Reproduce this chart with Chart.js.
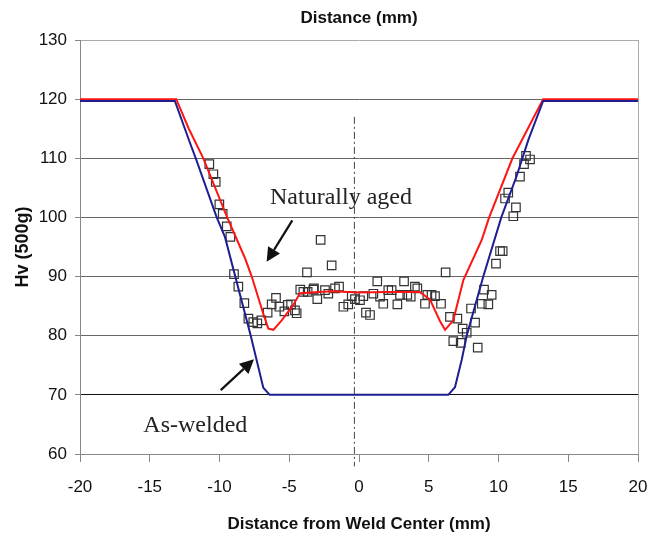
<!DOCTYPE html>
<html>
<head>
<meta charset="utf-8">
<script src="https://cdn.jsdelivr.net/npm/chart.js@4.4.0/dist/chart.umd.min.js"></script>
<style>
  html, body { margin: 0; padding: 0; background: #fff; }
</style>
</head>
<body>
<canvas id="hardnessChart" width="659" height="536"></canvas>
<script>
// measured hardness points (open squares)
const measuredX = [-10.73,-10.44,-10.27,-10.01,-9.77,-9.48,-9.22,-8.96,-8.65,-8.22,-7.93,-7.58,-7.29,-7.0,-6.55,-6.26,-5.95,-5.71,-5.35,-5.11,-4.87,-4.59,-4.47,-4.21,-3.99,-3.73,-3.68,-3.27,-3.23,-2.99,-2.75,-2.44,-2.20,-1.96,-1.72,-1.43,-1.12,-0.77,-0.52,-0.29,0.07,0.31,0.50,0.79,1.03,1.31,1.51,1.74,2.10,2.34,2.75,2.94,3.23,3.46,3.71,4.01,4.18,4.73,4.90,5.20,5.45,5.88,6.21,6.52,6.76,7.05,7.29,7.43,7.72,8.03,8.32,8.51,8.80,8.96,9.27,9.51,9.82,10.11,10.30,10.47,10.70,11.06,11.25,11.54,11.83,11.97,12.26];
const measuredHv = [109.0,107.3,106.0,102.2,100.6,98.5,96.7,90.4,88.3,85.5,82.9,82.3,82.1,82.6,83.9,85.3,86.4,84.9,84.1,85.2,85.3,84.3,83.8,87.8,87.4,90.7,87.4,87.8,88.0,86.2,96.2,87.7,87.1,91.9,88.0,88.3,84.9,85.3,86.7,86.2,86.0,86.7,83.9,83.5,87.1,89.2,86.6,85.4,87.7,87.7,85.3,86.9,89.2,86.9,86.6,88.3,88.0,85.4,86.9,86.9,86.7,85.4,90.7,83.2,79.1,82.9,78.8,81.2,80.5,84.6,82.2,78.0,85.4,87.8,85.3,86.9,92.2,94.3,94.3,103.2,104.2,100.2,101.7,106.9,109.0,110.4,109.8];

// naturally aged curve (red)
const agedX = [-20,-13.1,-12.2,-11.16,-9.45,-8.17,-7.69,-6.9,-6.5,-6.14,-5.54,-4.71,-4.23,-2,0,2,4.37,5.09,5.8,6.17,6.76,7.48,8.8,9.33,11.0,12.1,13.2,20];
const agedHv = [120,120,115,110,100,93.1,90,84,81.2,81.0,82.6,85.2,87.2,87.5,87.3,87.4,87.4,86.1,82.5,81.0,82.6,89.4,96.2,100,110,115,120,120];

// as-welded curve (blue)
const weldedX = [-20,-13.2,-12.1,-11.7,-10.2,-9.61,-7.76,-6.86,-6.4,6.4,6.88,7.36,7.72,8.91,10.2,11.3,12.14,13.2,20];
const weldedHv = [119.7,119.7,112.5,110,100,96.7,80,71.2,70,70,71.3,75.9,80,90,100,107,113.1,119.7,119.7];

// weld centre dash-dot line
const centerX = [-0.33, -0.33];
const centerHv = [117, 57.9];

// callouts (data coordinates)
const noteText = ["Naturally aged", "As-welded"];
const noteX = [-6.38, -15.46];
const noteHv = [102.3, 63.7];
const arrowFromX = [-4.78, -9.91];
const arrowFromHv = [99.5, 70.8];
const arrowToX = [-6.62, -7.53];
const arrowToHv = [92.5, 76.0];

const toPoints = (xs, ys) => xs.map((v, i) => ({ x: v, y: ys[i] }));
const sans = '"Liberation Sans", Arial, sans-serif';

const notesPlugin = {
  id: "weldNotes",
  afterDatasetsDraw(chart) {
    const { ctx, chartArea, scales: { x, y } } = chart;
    ctx.save();
    // right edge of the frame
    ctx.strokeStyle = "#aaa";
    ctx.lineWidth = 1;
    ctx.beginPath();
    ctx.moveTo(Math.round(chartArea.right) + 0.5, chartArea.top);
    ctx.lineTo(Math.round(chartArea.right) + 0.5, chartArea.bottom);
    ctx.stroke();

    ctx.fillStyle = "#222";
    ctx.font = '24px "Liberation Serif", "Times New Roman", serif';
    ctx.textBaseline = "alphabetic";
    noteText.forEach((t, i) => {
      ctx.fillText(t, x.getPixelForValue(noteX[i]), y.getPixelForValue(noteHv[i]));
    });

    // arrows
    ctx.strokeStyle = "#111";
    ctx.fillStyle = "#111";
    ctx.lineWidth = 2.2;
    arrowFromX.forEach((_, i) => {
      const x0 = x.getPixelForValue(arrowFromX[i]), y0 = y.getPixelForValue(arrowFromHv[i]);
      const x1 = x.getPixelForValue(arrowToX[i]), y1 = y.getPixelForValue(arrowToHv[i]);
      const ang = Math.atan2(y1 - y0, x1 - x0);
      const head = 14, half = 7;
      const bx = x1 - head * Math.cos(ang), by = y1 - head * Math.sin(ang);
      ctx.beginPath();
      ctx.moveTo(x0, y0);
      ctx.lineTo(bx, by);
      ctx.stroke();
      ctx.beginPath();
      ctx.moveTo(x1, y1);
      ctx.lineTo(bx + half * Math.sin(ang), by - half * Math.cos(ang));
      ctx.lineTo(bx - half * Math.sin(ang), by + half * Math.cos(ang));
      ctx.closePath();
      ctx.fill();
    });
    ctx.restore();
  }
};

const ctx = document.getElementById("hardnessChart").getContext("2d");
new Chart(ctx, {
  type: "scatter",
  data: {
    datasets: [
      {
        label: "Measured",
        data: toPoints(measuredX, measuredHv),
        pointStyle: "rect",
        pointRadius: 6,
        borderColor: "#333",
        backgroundColor: "rgba(255,255,255,0)",
        borderWidth: 1.2,
        order: 3
      },
      {
        label: "Naturally aged",
        type: "line",
        data: toPoints(agedX, agedHv),
        borderColor: "#ff1414",
        borderWidth: 2,
        pointRadius: 0,
        tension: 0,
        fill: false,
        order: 2
      },
      {
        label: "As-welded",
        type: "line",
        data: toPoints(weldedX, weldedHv),
        borderColor: "#1e1e92",
        borderWidth: 2,
        pointRadius: 0,
        tension: 0,
        fill: false,
        order: 1
      },
      {
        label: "Weld center",
        type: "line",
        data: toPoints(centerX, centerHv),
        borderColor: "#444",
        borderWidth: 1,
        borderDash: [7, 3, 2, 3],
        pointRadius: 0,
        fill: false,
        clip: false,
        order: 4
      }
    ]
  },
  options: {
    responsive: false,
    animation: false,
    devicePixelRatio: 1,
    layout: { padding: { left: 0, right: 21, top: 0, bottom: 0 } },
    plugins: {
      legend: { display: false },
      tooltip: { enabled: false },
      title: {
        display: true,
        text: "Distance (mm)",
        fullSize: false,
        color: "#111",
        font: { family: sans, size: 17, weight: "bold" },
        padding: { top: 8, bottom: 11.6 }
      }
    },
    scales: {
      x: {
        type: "linear",
        min: -20,
        max: 20,
        ticks: { stepSize: 5, color: "#111", padding: 15, font: { family: sans, size: 17 } },
        grid: { drawOnChartArea: false, drawTicks: true, tickLength: 8, color: "#888" },
        border: { color: "#888" },
        title: {
          display: true,
          text: "Distance from Weld Center (mm)",
          color: "#111",
          font: { family: sans, size: 17, weight: "bold" },
          padding: { top: 0, bottom: 1 }
        },
        afterFit(scale) {
          scale.height = 82;
          scale.paddingLeft = 0;
          scale.paddingRight = 0;
        }
      },
      y: {
        min: 60,
        max: 130,
        ticks: { stepSize: 10, color: "#111", padding: 8, font: { family: sans, size: 17 } },
        grid: {
          color: (c) => c.tick && c.tick.value === 70 ? "#111" : (c.tick && c.tick.value === 130 ? "#aaa" : "#666"),
          tickColor: "#888",
          tickLength: 5
        },
        border: { color: "#888" },
        title: {
          display: true,
          text: "Hv (500g)",
          color: "#111",
          font: { family: sans, size: 18, weight: "bold" },
          padding: { top: 12, bottom: 0 }
        },
        afterFit(scale) { scale.width = 80; }
      }
    }
  },
  plugins: [notesPlugin]
});
</script>
</body>
</html>
